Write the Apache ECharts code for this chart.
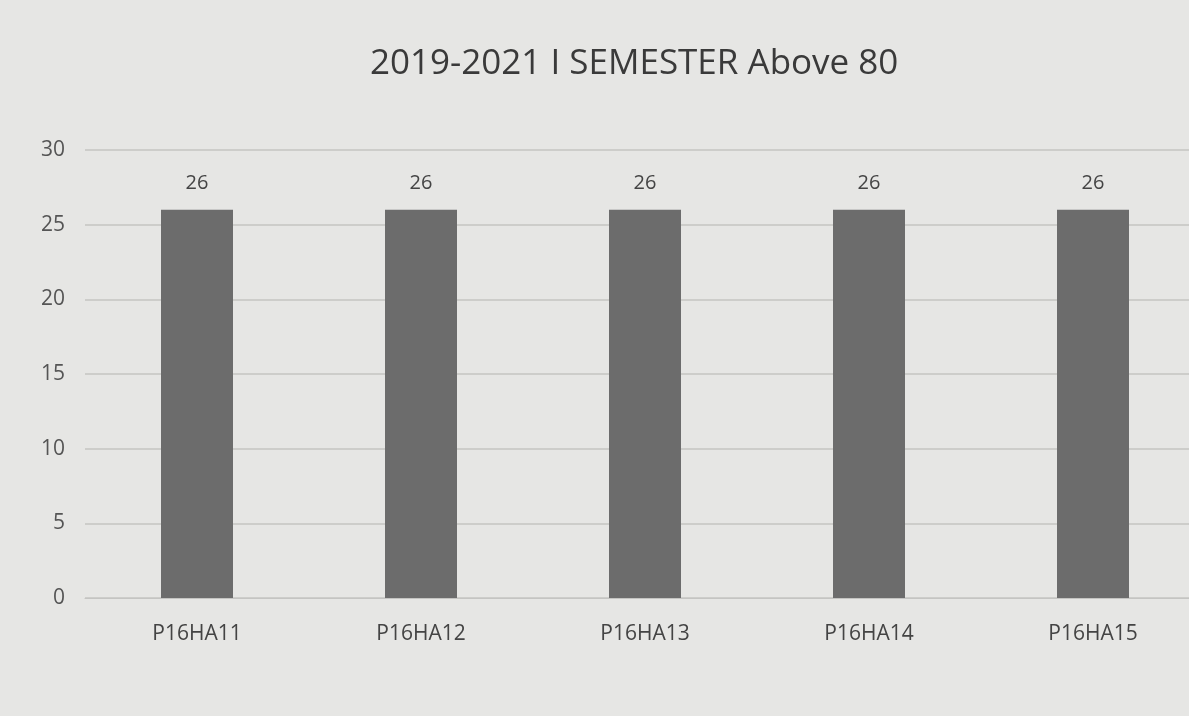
<!DOCTYPE html>
<html>
<head>
<meta charset="utf-8">
<script src="https://cdn.jsdelivr.net/npm/echarts@6/dist/echarts.min.js"></script>
<style>
  html, body { margin: 0; padding: 0; background: #e6e6e4; overflow: hidden; }
  #chart { width: 1210px; height: 716px; }
</style>
</head>
<body>
<div id="chart"></div>
<script>
  const categories = ['P16HA11', 'P16HA12', 'P16HA13', 'P16HA14', 'P16HA15'];
  const values = [26, 26, 26, 26, 26];
  const yTicks = [0, 5, 10, 15, 20, 25, 30];

  const chart = echarts.init(document.getElementById('chart'));

  chart.setOption({
    backgroundColor: '#e6e6e4',
    textStyle: { fontFamily: 'Open Sans' },
    title: {
      text: '2019-2021 I SEMESTER Above 80',
      left: 365,
      top: 42,
      textStyle: { fontSize: 35, fontWeight: 'normal', color: '#3a3a3a', fontFamily: 'Open Sans' },
    },
    grid: { left: 85, right: 5, top: 150, bottom: 118 },
    xAxis: {
      type: 'category',
      data: categories,
      axisLine: { lineStyle: { color: '#c4c4c2' } },
      axisTick: { show: false },
      axisLabel: { fontSize: 21, color: '#444', margin: 26 },
    },
    yAxis: {
      type: 'value',
      min: yTicks[0],
      max: yTicks[yTicks.length - 1],
      interval: 5,
      axisLine: { show: false },
      axisTick: { show: false },
      axisLabel: { fontSize: 21, color: '#555', margin: 20 },
      splitLine: { lineStyle: { color: '#c4c4c2', width: 1.5 } },
    },
    series: [
      {
        type: 'bar',
        data: values,
        barWidth: 72,
        itemStyle: { color: '#6c6c6c' },
        label: {
          show: true,
          position: 'top',
          distance: 16,
          fontSize: 20,
          color: '#444',
        },
      },
    ],
  });
</script>
</body>
</html>
